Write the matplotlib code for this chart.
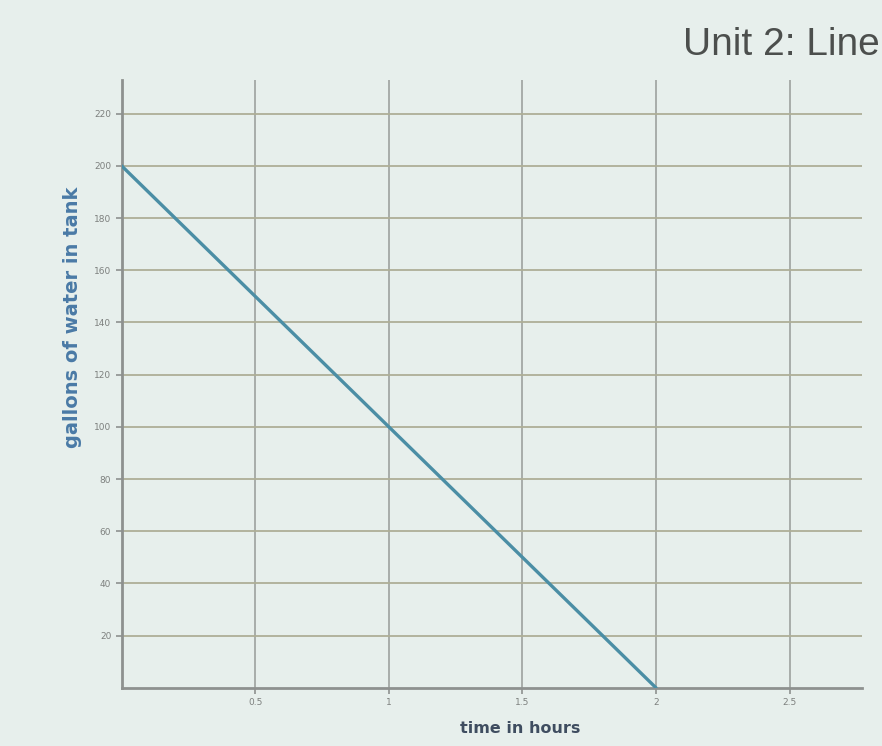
import matplotlib
matplotlib.use("Agg")
from matplotlib import pyplot as plt

# data
hours = [0, 0.5, 1, 1.5, 2]
gallons = [200, 150, 100, 50, 0]
x_ticks = [0.5, 1, 1.5, 2, 2.5]
x_tick_labels = ["0.5", "1", "1.5", "2", "2.5"]
y_ticks = [20, 40, 60, 80, 100, 120, 140, 160, 180, 200, 220]

bg = "#e7efec"
fig = plt.figure(figsize=(8.82, 7.46), dpi=100, facecolor=bg)
ax = fig.add_axes([0.138, 0.078, 0.839, 0.815], facecolor=bg)

ax.plot(hours, gallons, color="#4b8ea5", lw=2.4, solid_capstyle="round", zorder=3)

ax.set_xlim(0, 2.77)
ax.set_ylim(0, 233)
ax.set_xticks(x_ticks)
ax.set_xticklabels(x_tick_labels)
ax.set_yticks(y_ticks)

# grid: vertical grey, horizontal olive-ish
for x in x_ticks:
    ax.axvline(x, color="#a3a8a4", lw=1.3, zorder=1)
for y in y_ticks:
    ax.axhline(y, color="#aeae97", lw=1.3, zorder=1)

for s in ["top", "right"]:
    ax.spines[s].set_visible(False)
for s in ["left", "bottom"]:
    ax.spines[s].set_color("#8e918f")
    ax.spines[s].set_linewidth(2.0)

ax.tick_params(axis="both", colors="#8e918f", labelcolor="#7d807e",
               labelsize=6.5, length=4, width=1.2)

ax.set_ylabel("gallons of water in tank", color="#4a7aa6", fontsize=14,
              fontweight="bold")
ax.yaxis.set_label_coords(-0.053, 0.61)
ax.set_xlabel("time in hours", color="#3f4d60", fontsize=11.5,
              fontweight="bold")
ax.xaxis.set_label_coords(0.538, -0.055)

fig.text(0.998, 0.94, "Unit 2: Line", ha="right", va="center",
         fontsize=28, color="#4c4f4d", family="Liberation Sans")

fig.savefig("out.png", dpi=100, facecolor=bg)
